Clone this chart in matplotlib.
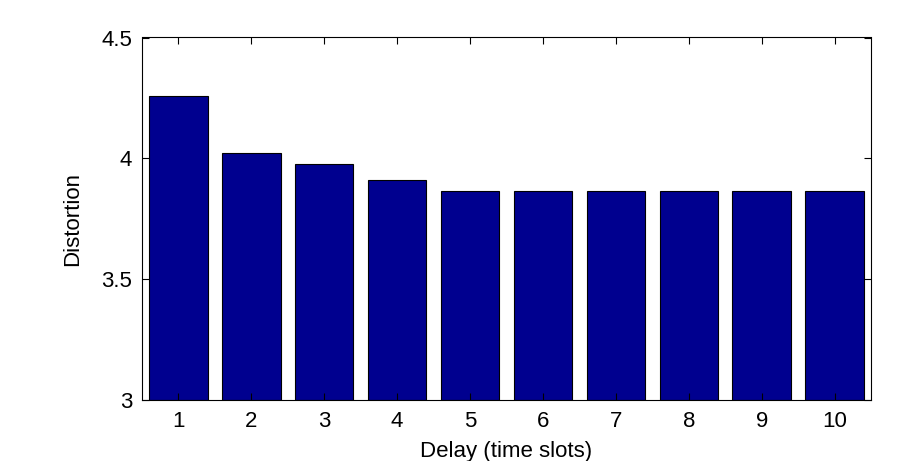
import matplotlib
matplotlib.use("Agg")
import matplotlib.pyplot as plt

delays = [1, 2, 3, 4, 5, 6, 7, 8, 9, 10]
distortion = [4.259, 4.024, 3.978, 3.910, 3.865, 3.865, 3.865, 3.865, 3.865, 3.865]
yticks = [3, 3.5, 4, 4.5]
ytick_labels = ["3", "3.5", "4", "4.5"]

plt.rcParams['font.family'] = ['Liberation Sans', 'DejaVu Sans']
fig = plt.figure(figsize=(9.06, 4.61), dpi=100)
ax = fig.add_axes([142/906, 1-400/461, (871-142)/906, (400-37.5)/461])
ax.bar(delays, [d - 3 for d in distortion], bottom=3, width=0.8,
       color='#00008F', edgecolor='black', linewidth=0.8)
ax.set_xlim(0.5, 10.5)
ax.set_ylim(3, 4.5)
ax.set_xticks(delays)
ax.set_xticklabels([str(d) for d in delays])
ax.set_yticks(yticks)
ax.set_yticklabels(ytick_labels)
ax.tick_params(direction='in', top=True, right=True, labelsize=16, length=5, width=0.8)
ax.tick_params(axis='x', pad=8)
ax.tick_params(axis='y', pad=7)
for s in ax.spines.values():
    s.set_linewidth(0.8)
ax.set_xlabel('Delay (time slots)', fontsize=16, labelpad=6.5)
ax.set_ylabel('Distortion', fontsize=16, labelpad=13)
fig.savefig('out.png', dpi=100)
